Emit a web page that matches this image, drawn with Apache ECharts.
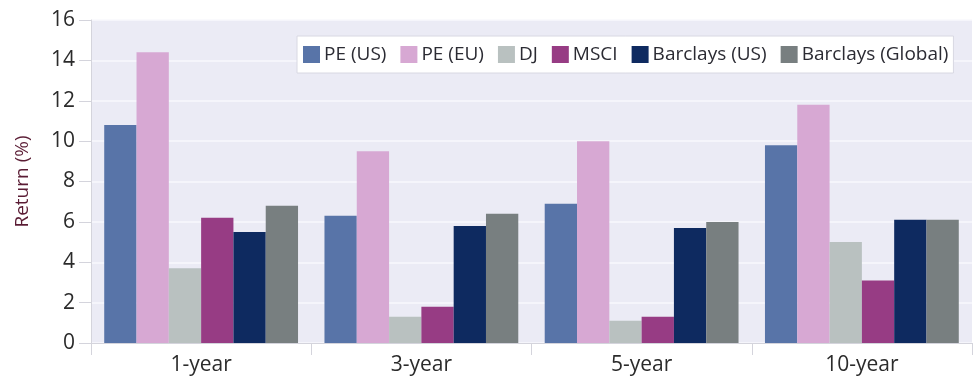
<!DOCTYPE html>
<html>
<head>
<meta charset="utf-8">
<script src="https://cdn.jsdelivr.net/npm/echarts@6/dist/echarts.min.js"></script>
<style>
  html, body { margin: 0; padding: 0; background: #ffffff; }
  #chart { width: 978px; height: 380px; }
</style>
</head>
<body>
<div id="chart"></div>
<script>
// Annualised returns by horizon
const categories = ['1-year', '3-year', '5-year', '10-year'];
const peUS = [10.8, 6.3, 6.9, 9.8];
const peEU = [14.4, 9.5, 10.0, 11.8];
const dj = [3.7, 1.3, 1.1, 5.0];
const msci = [6.2, 1.8, 1.3, 3.1];
const barclaysUS = [5.5, 5.8, 5.7, 6.1];
const barclaysGlobal = [6.8, 6.4, 6.0, 6.1];
const yTicks = [0, 2, 4, 6, 8, 10, 12, 14, 16];

const seriesDefs = [
  { name: 'PE (US)', data: peUS, color: '#5874a8' },
  { name: 'PE (EU)', data: peEU, color: '#d7a8d3' },
  { name: 'DJ', data: dj, color: '#b9c1c0' },
  { name: 'MSCI', data: msci, color: '#973c84' },
  { name: 'Barclays (US)', data: barclaysUS, color: '#0e2a60' },
  { name: 'Barclays (Global)', data: barclaysGlobal, color: '#787f80' }
];

const font = '"Open Sans", "Noto Sans", sans-serif';
const chart = echarts.init(document.getElementById('chart'), null, { renderer: 'canvas' });

chart.setOption({
  animation: false,
  textStyle: { fontFamily: font },
  grid: {
    left: 91, right: 6, top: 20, bottom: 37,
    show: true, backgroundColor: '#ebebf5', borderWidth: 0
  },
  legend: {
    top: 36, left: 297,
    backgroundColor: '#ffffff',
    borderColor: '#d8d8e2', borderWidth: 1,
    padding: [9, 5, 9, 6],
    itemWidth: 17, itemHeight: 17, itemGap: 14,
    icon: 'rect',
    textStyle: { fontFamily: font, fontSize: 19, color: '#2b2b33', padding: [0, 0, 0, -1] },
    data: seriesDefs.map(s => s.name)
  },
  xAxis: {
    type: 'category',
    data: categories,
    axisLine: { show: true, lineStyle: { color: '#d4d4dc', width: 1 } },
    axisTick: { show: true, length: 12, lineStyle: { color: '#d4d4dc' } },
    axisLabel: { fontFamily: font, fontSize: 21, color: '#2b2b2b', margin: 12 }
  },
  yAxis: {
    type: 'value',
    min: yTicks[0], max: yTicks[yTicks.length - 1], interval: 2,
    name: 'Return (%)',
    nameLocation: 'middle',
    nameGap: 59,
    nameTextStyle: { fontFamily: font, fontSize: 19, color: '#5a1c34' },
    axisLine: { show: true, lineStyle: { color: '#d4d4dc' } },
    axisTick: { show: true, length: 12, lineStyle: { color: '#d4d4dc' } },
    axisLabel: { fontFamily: font, fontSize: 21, color: '#2b2b2b', margin: 16 },
    splitLine: { show: true, lineStyle: { color: '#f9f9fd', width: 1.5 } }
  },
  series: seriesDefs.map(s => ({
    name: s.name,
    type: 'bar',
    data: s.data,
    barGap: '0%',
    barCategoryGap: '12%',
    itemStyle: { color: s.color }
  }))
});
</script>
</body>
</html>
